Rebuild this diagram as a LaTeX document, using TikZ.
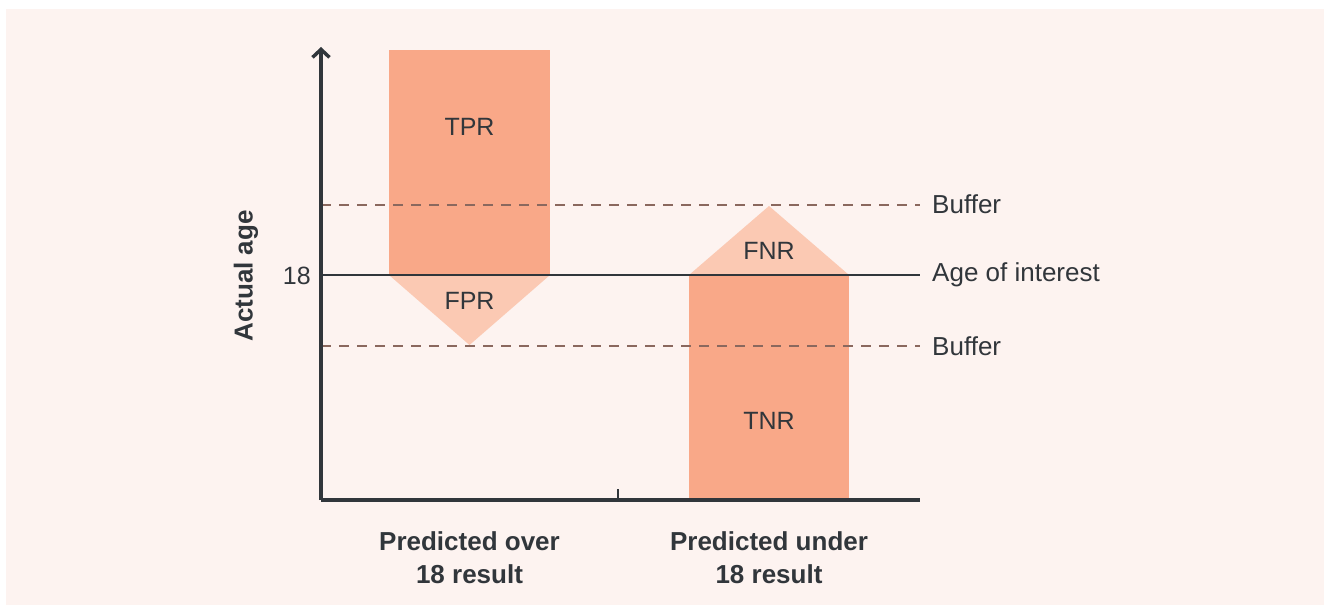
\documentclass[tikz,border=0pt]{standalone}
\usepackage{fontspec}
\setmainfont{Liberation Sans}
\usetikzlibrary{arrows.meta}
\definecolor{bgpink}{HTML}{FDF3F0}
\definecolor{darkfill}{HTML}{F9A888}
\definecolor{lightfill}{HTML}{FBC9B3}
\definecolor{ink}{HTML}{31363B}
\definecolor{dashc}{HTML}{8A685E}
\tikzset{
  lbl/.style={text=ink, font=\fontsize{25}{28}\selectfont, inner sep=0pt},
  sidelbl/.style={text=ink, font=\fontsize{26}{28}\selectfont, inner sep=0pt, anchor=west},
  boldlbl/.style={text=ink, font=\bfseries\fontsize{26}{33}\selectfont, inner sep=0pt, align=center},
  axisline/.style={draw=ink, line width=3.5pt},
  buffline/.style={draw=dashc, line width=1.3pt, dash pattern=on 10pt off 8pt},
  interestline/.style={draw=ink, line width=2.2pt},
}
\begin{document}
\begin{tikzpicture}[x=1pt,y=-1pt]
\useasboundingbox (0,0) rectangle (1329,609);
\fill[bgpink] (6,9) rectangle (1324,605);
% shapes
\fill[darkfill] (389,50) rectangle (550,275);
\fill[lightfill] (389,275) -- (550,275) -- (469.5,345) -- cycle;
\fill[lightfill] (689,275) -- (849,275) -- (769,206) -- cycle;
\fill[darkfill] (689,275) rectangle (849,500);
% coordinates
\coordinate (origin) at (321,500);
\coordinate (ytop) at (321,47);
\coordinate (xend) at (920,500);
\coordinate (tickb) at (618,500);
\coordinate (tickt) at (618,489);
\coordinate (bu1) at (321,205);
\coordinate (bu1e) at (920,205);
\coordinate (ai) at (321,275);
\coordinate (aie) at (920,275);
\coordinate (bu2) at (321,346);
\coordinate (bu2e) at (920,346);
% lines
\draw[buffline] (bu1) -- (bu1e);
\draw[buffline] (bu2) -- (bu2e);
\draw[interestline] (ai) -- (aie);
\draw[axisline, -{Straight Barb[length=8pt,width=17pt,line width=3.5pt]}] (origin) -- (ytop);
\draw[axisline] (origin) -- (xend);
\draw[draw=ink, line width=2.8pt] (tickb) -- (tickt);
% labels
\node[lbl] (tpr) at (469.5,127) {TPR};
\node[lbl] (fpr) at (469.5,301) {FPR};
\node[lbl] (fnr) at (769,251) {FNR};
\node[lbl] (tnr) at (769,421) {TNR};
\node[lbl, anchor=east] (eighteen) at (311,276) {18};
\node[boldlbl, rotate=90] (actual) at (246,276) {Actual age};
\node[sidelbl] (buf1) at (932,204) {Buffer};
\node[sidelbl] (aoi) at (932,275) {Age of interest};
\node[sidelbl] (buf2) at (932,346) {Buffer};
\node[boldlbl] (pover) at (469.5,558) {Predicted over\\18 result};
\node[boldlbl] (punder) at (769,558) {Predicted under\\18 result};
\end{tikzpicture}
\end{document}
